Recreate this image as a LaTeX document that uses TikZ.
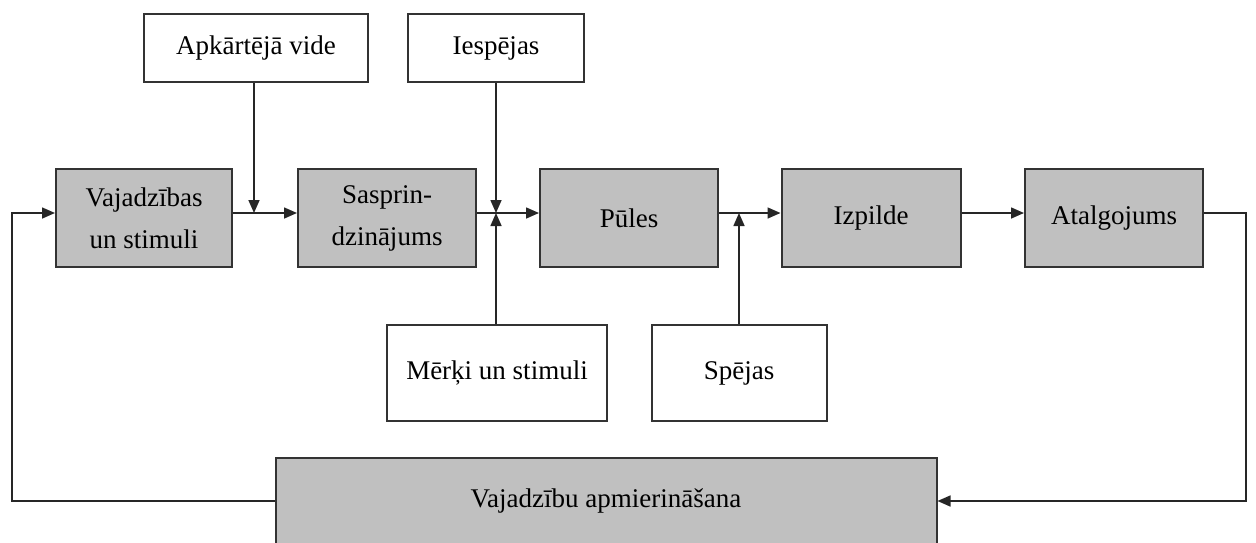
\documentclass[tikz,border=0pt]{standalone}
\usepackage{fontspec}
\setmainfont{Liberation Serif}
\usetikzlibrary{arrows.meta,calc}
\begin{document}
\begin{tikzpicture}[x=1pt,y=-1pt,
  box/.style={draw=black!80,line width=2pt,inner sep=0pt,align=center,font=\fontsize{27}{42}\selectfont},
  gbox/.style={box,fill={rgb,255:red,192;green,192;blue,192}},
  wbox/.style={box,fill=white},
  conn/.style={line width=1.6pt,draw=black!85},
  arr/.style={conn,-{Triangle[length=13pt,width=11pt]}}]
\useasboundingbox (0,0) rectangle (1256,542);
\node[wbox,minimum width=224pt,minimum height=68pt] (apk) at (256,48) {Apkārtējā vide};
\node[wbox,minimum width=176pt,minimum height=68pt] (iesp) at (496,48) {Iespējas};
\node[gbox,minimum width=176pt,minimum height=98pt] (vaj) at (144,218) {Vajadzības\\un stimuli};
\node[gbox,minimum width=178pt,minimum height=98pt] (sasp) at (387,218) {Sasprin-\\dzinājums};
\node[gbox,minimum width=178pt,minimum height=98pt] (pules) at (629,218) {Pūles};
\node[gbox,minimum width=179pt,minimum height=98pt] (izp) at (871,218) {Izpilde};
\node[gbox,minimum width=178pt,minimum height=98pt] (atal) at (1114,218) {Atalgojums};
\node[wbox,minimum width=220pt,minimum height=96pt] (merk) at (497,373) {Mērķi un stimuli};
\node[wbox,minimum width=175pt,minimum height=96pt] (spej) at (739,373) {Spējas};
\node[gbox,minimum width=661pt,minimum height=86pt] (apm) at (606,501) {Vajadzību apmierināšana};
% junction coordinates on the main line (y = 213)
\coordinate (j1) at (254,213);
\coordinate (j2) at (496,213);
\coordinate (j3) at (739,213);
\coordinate (rt) at (1246,213);
\coordinate (rb) at (1246,501);
\coordinate (lb) at (12,501);
\coordinate (lt) at (12,213);
\draw[arr] ([yshift=5pt]vaj.east) -- ([yshift=5pt]sasp.west);
\draw[arr] (apk.south -| j1) -- (j1);
\draw[arr] ([yshift=5pt]sasp.east) -- ([yshift=5pt]pules.west);
\draw[arr] (iesp.south -| j2) -- (j2);
\draw[arr] (merk.north -| j2) -- (j2);
\draw[arr] ([yshift=5pt]pules.east) -- ([yshift=5pt]izp.west);
\draw[arr] (spej.north -| j3) -- (j3);
\draw[arr] ([yshift=5pt]izp.east) -- ([yshift=5pt]atal.west);
\draw[arr] ([yshift=5pt]atal.east) -- (rt) -- (rb) -- (apm.east |- rb);
\draw[arr] (apm.west |- lb) -- (lb) -- (lt) -- ([yshift=5pt]vaj.west);
\end{tikzpicture}
\end{document}
